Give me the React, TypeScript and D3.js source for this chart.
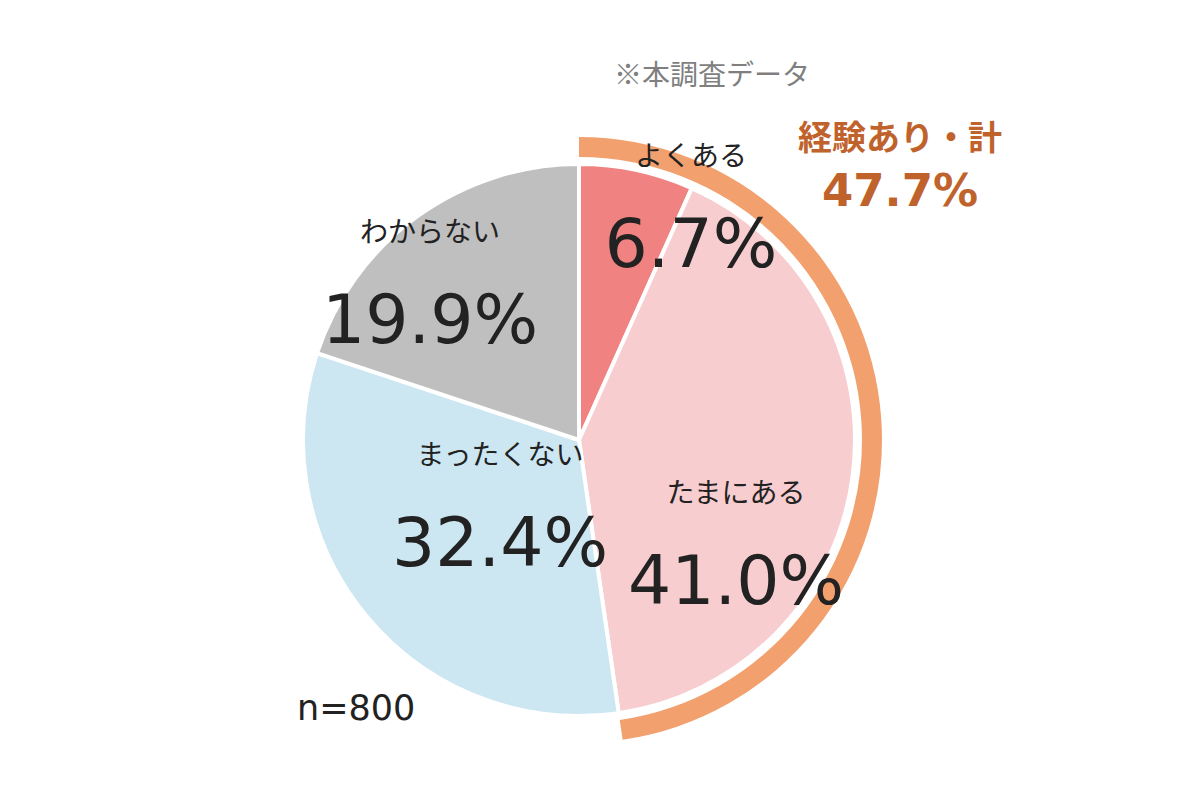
import React from "react";
import * as d3 from "d3";

// 回答データ (n=800)
const categories = ["よくある", "たまにある", "まったくない", "わからない"];
const shares = [6.7, 41.0, 32.4, 19.9];
const sliceColors = ["#F08282", "#F7CDCF", "#CCE7F2", "#BFBFBF"];
const experienced = ["よくある", "たまにある"]; // 経験あり・計
const totalLabel = "47.7%";
const sampleLabel = "n=800";
const noteLabel = "※本調査データ";

// label anchor (center of the number text) relative to pie center, per slice
const labelAnchor = [
  [112, -173],
  [157, 164],
  [-79, 126],
  [-149, -97],
];

const W = 1200;
const H = 800;
const cx = 579;
const cy = 440;
const R = 276;

const jpFont = "'Noto Sans CJK JP', 'Noto Sans', sans-serif";
const numFont = "'DejaVu Sans', Verdana, sans-serif";

export default function App() {
  const pie = d3
    .pie<number>()
    .sort(null)
    .value(d => d)
    .startAngle(0)
    .endAngle(2 * Math.PI);
  const arcs = pie(shares);

  const arc = d3.arc<d3.PieArcDatum<number>>().innerRadius(0).outerRadius(R);

  // outer band for 経験あり
  const expArcs = arcs.filter((_, i) => experienced.includes(categories[i]));
  const band = d3.arc()({
    startAngle: d3.min(expArcs, a => a.startAngle)!,
    endAngle: d3.max(expArcs, a => a.endAngle)!,
    innerRadius: R + 7,
    outerRadius: R + 27,
  } as any);

  return (
    <svg width={W} height={H} style={{ position: "absolute", left: 0, top: 0 }}>
      <rect width={W} height={H} fill="#fff" />
      <g transform={`translate(${cx},${cy})`}>
        <path d={band!} fill="#F2A06E" />
        {arcs.map((a, i) => (
          <path key={i} d={arc(a)!} fill={sliceColors[i]} stroke="#fff" strokeWidth={4} strokeLinejoin="round" />
        ))}
        {arcs.map((a, i) => {
          const [x, y] = labelAnchor[i];
          return (
            <g key={"l" + i} transform={`translate(${x},${y})`} fill="#222">
              <text textAnchor="middle" y={-101} fontFamily={jpFont} fontSize={28}>
                {categories[i]}
              </text>
              <text textAnchor="middle" y={0} fontFamily={numFont} fontSize={68}>
                {shares[i].toFixed(1)}%
              </text>
            </g>
          );
        })}
      </g>
      <text x={712} y={85} textAnchor="middle" fontFamily={jpFont} fontSize={28} fill="#7f7f7f">
        {noteLabel}
      </text>
      <text x={900} y={150} textAnchor="middle" fontFamily={jpFont} fontSize={34} fontWeight={700} fill="#C0622B">
        経験あり・計
      </text>
      <text x={900} y={206} textAnchor="middle" fontFamily={numFont} fontSize={45} fontWeight={700} fill="#C0622B">
        {totalLabel}
      </text>
      <text x={297} y={720} fontFamily={numFont} fontSize={35} fill="#222">
        {sampleLabel}
      </text>
    </svg>
  );
}
